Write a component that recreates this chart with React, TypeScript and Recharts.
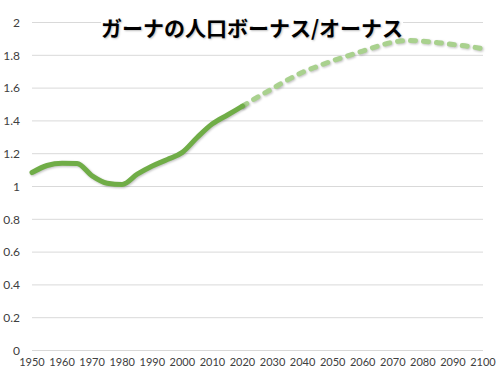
import React from "react";
import { LineChart, Line, XAxis, YAxis, CartesianGrid } from "recharts";

const title = "ガーナの人口ボーナス/オーナス";

const years = [
  1950, 1955, 1960, 1965, 1970, 1975, 1980, 1985, 1990, 1995, 2000, 2005, 2010, 2015, 2020,
  2025, 2030, 2035, 2040, 2045, 2050, 2055, 2060, 2065, 2070, 2075, 2080, 2085, 2090, 2095, 2100,
];

const actualValues: (number | null)[] = [
  1.085, 1.128, 1.142, 1.14, 1.065, 1.02, 1.012, 1.075, 1.125, 1.165, 1.208, 1.3, 1.382, 1.436, 1.49,
  null, null, null, null, null, null, null, null, null, null, null, null, null, null, null, null,
];

const projectedValues: (number | null)[] = [
  null, null, null, null, null, null, null, null, null, null, null, null, null, null, 1.49,
  1.545, 1.597, 1.65, 1.697, 1.733, 1.767, 1.797, 1.826, 1.856, 1.88, 1.89, 1.886, 1.877, 1.866, 1.855, 1.84,
];

const xTicks = [1950, 1960, 1970, 1980, 1990, 2000, 2010, 2020, 2030, 2040, 2050, 2060, 2070, 2080, 2090, 2100];
const yTicks = [0, 0.2, 0.4, 0.6, 0.8, 1, 1.2, 1.4, 1.6, 1.8, 2];

const data = years.map((y, i) => ({ year: y, actual: actualValues[i], projected: projectedValues[i] }));

const fmt = (v: number) => String(Math.round(v * 10) / 10);

export default function App() {
  return (
    <div style={{ position: "absolute", left: 0, top: 0, width: 504, height: 375, background: "#fff" }}>
      <style>{`.recharts-line-curve { filter: drop-shadow(1px 1.5px 1px rgba(0,0,0,0.25)); }`}</style>
      <LineChart
        width={504}
        height={375}
        data={data}
        margin={{ top: 22.5, right: 21, bottom: 0, left: 0 }}
      >
        <CartesianGrid horizontal vertical={false} stroke="#d9d9d9" />
        <XAxis
          dataKey="year"
          type="number"
          domain={[1950, 2100]}
          ticks={xTicks}
          interval={0}
          axisLine={false}
          tickLine={false}
          tickSize={0}
          tickMargin={8}
          height={24.5}
          tick={{ fill: "#404040", fontSize: 11, fontFamily: "Lato, 'Open Sans', sans-serif" }}
        />
        <YAxis
          domain={[0, 2]}
          ticks={yTicks}
          interval={0}
          axisLine={false}
          tickLine={false}
          tickSize={0}
          tickMargin={12}
          width={32}
          tickFormatter={fmt}
          tick={{ fill: "#404040", fontSize: 12, fontFamily: "Lato, 'Open Sans', sans-serif" }}
        />
        <Line
          type="monotone"
          dataKey="projected"
          stroke="#a9d18e"
          strokeWidth={5}
          strokeDasharray="5 8"
          strokeLinecap="round"
          dot={false}
          connectNulls={false}
          isAnimationActive={false}
        />
        <Line
          type="monotone"
          dataKey="actual"
          stroke="#70ad47"
          strokeWidth={5}
          strokeLinecap="round"
          dot={false}
          connectNulls={false}
          isAnimationActive={false}
        />
      </LineChart>
      <div
        style={{
          position: "absolute",
          left: 0,
          width: 504,
          top: 17,
          textAlign: "center",
          fontFamily: "'Noto Sans CJK JP', sans-serif",
          fontWeight: 700,
          fontSize: 21,
          lineHeight: "20px",
          color: "#000",
          pointerEvents: "none",
        }}
      >
        <span
          style={{
            display: "inline-block",
            height: 20,
            background: "#fff",
            textShadow: "1px 1px 2px rgba(0,0,0,0.25)",
          }}
        >
          {title}
        </span>
      </div>
    </div>
  );
}
